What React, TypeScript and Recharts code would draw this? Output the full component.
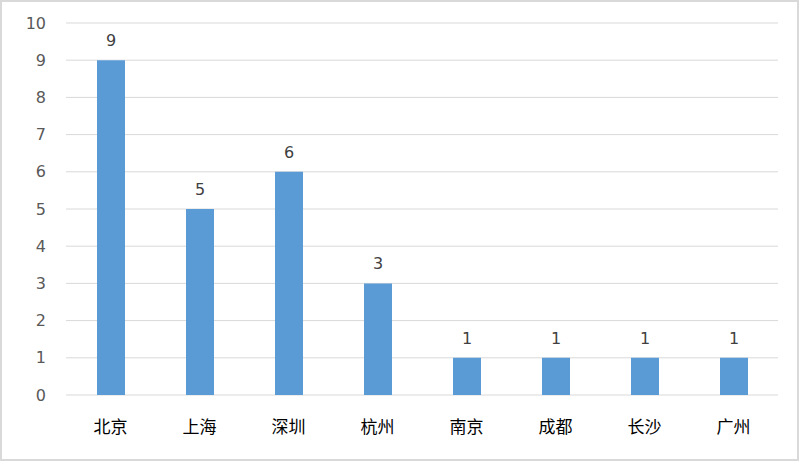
import { BarChart, Bar, XAxis, YAxis, CartesianGrid, LabelList } from "recharts";

const cities = ["北京", "上海", "深圳", "杭州", "南京", "成都", "长沙", "广州"];
const counts = [9, 5, 6, 3, 1, 1, 1, 1];
const yTicks = [0, 1, 2, 3, 4, 5, 6, 7, 8, 9, 10];

export default function App() {
  const data = cities.map((city, i) => ({ city, count: counts[i] }));

  return (
    <div style={{ position: "absolute", left: 0, top: 0, width: 801, height: 461, background: "#fff" }}>
      <div
        style={{
          position: "absolute",
          left: 0,
          top: 0,
          width: 799,
          height: 461,
          boxSizing: "border-box",
          border: "2px solid #d9d9d9",
        }}
      />
      <BarChart
        width={801}
        height={461}
        data={data}
        margin={{ top: 23, right: 23, left: 0, bottom: 0 }}
        style={{ position: "absolute", left: 0, top: 0 }}
      >
        <CartesianGrid vertical={false} stroke="#d9d9d9" strokeWidth={1} />
        <XAxis
          dataKey="city"
          height={66}
          axisLine={false}
          tickLine={false}
          tickSize={0}
          tickMargin={26}
          tick={{ fill: "#000", fontSize: 17, fontFamily: "Noto Sans CJK SC" }}
        />
        <YAxis
          width={66}
          domain={[0, 10]}
          ticks={yTicks}
          interval={0}
          axisLine={false}
          tickLine={false}
          tickSize={0}
          tickMargin={20}
          tick={{ fill: "#595959", fontSize: 16, fontFamily: "DejaVu Sans" }}
        />
        <Bar dataKey="count" fill="#5b9bd5" barSize={28} isAnimationActive={false}>
          <LabelList
            dataKey="count"
            position="top"
            offset={14}
            fill="#404040"
            fontSize={16}
            fontFamily="DejaVu Sans"
          />
        </Bar>
      </BarChart>
    </div>
  );
}
